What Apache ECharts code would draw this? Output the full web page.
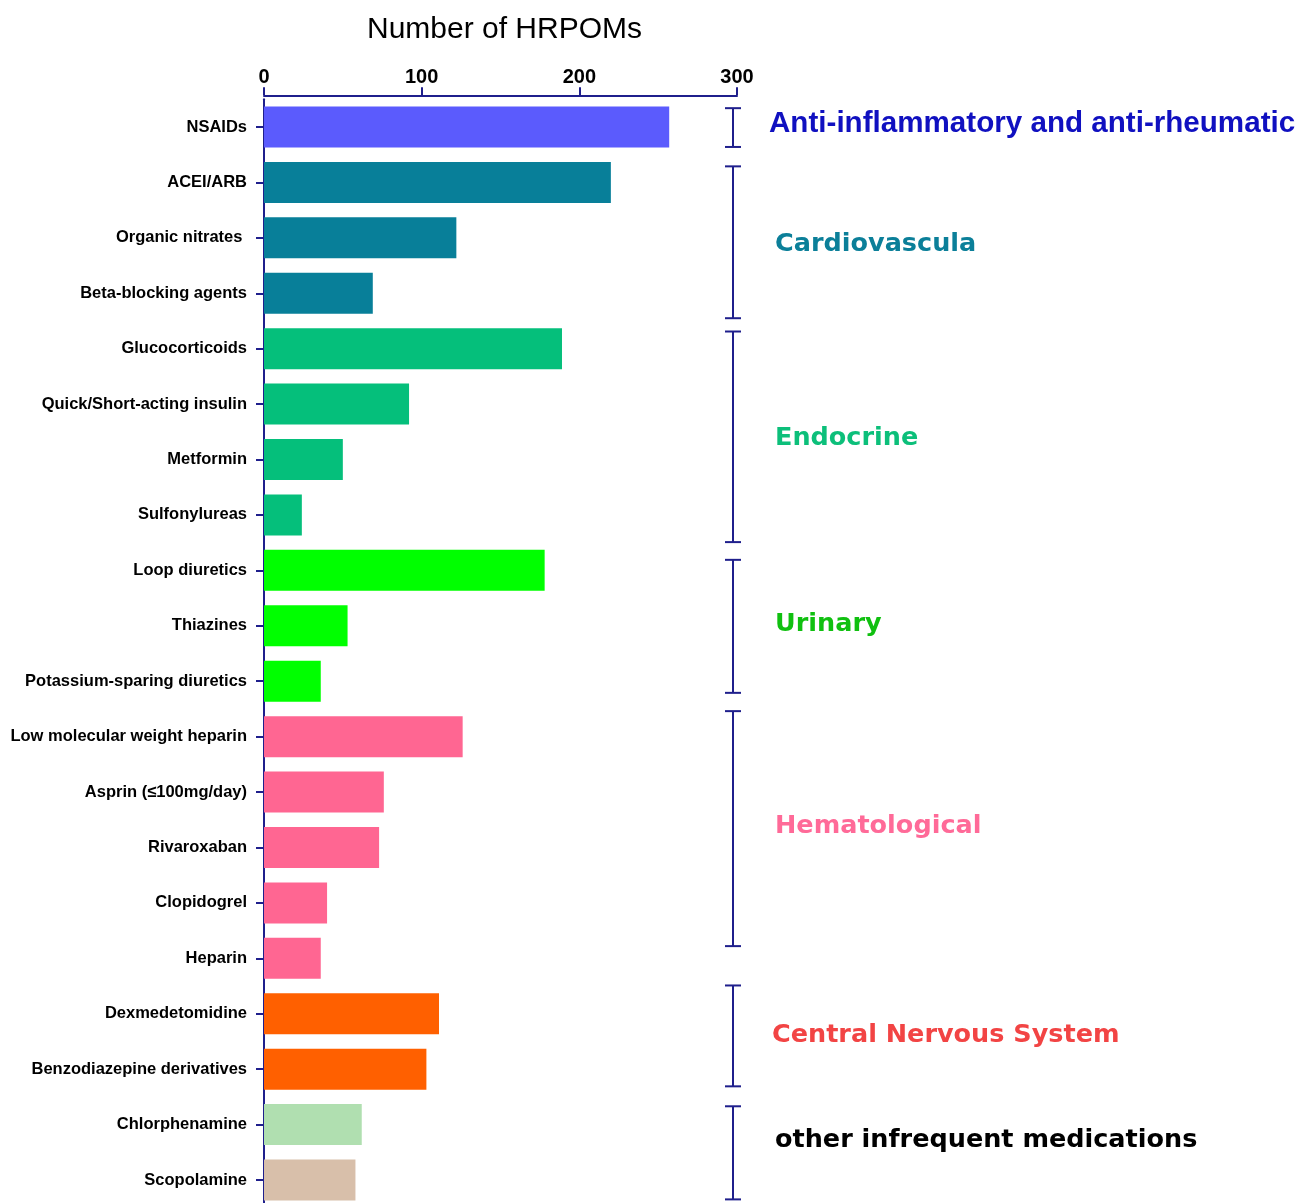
<!DOCTYPE html>
<html><head><meta charset="utf-8">
<script src="https://cdn.jsdelivr.net/npm/echarts@6/dist/echarts.min.js"></script>
<style>html,body{margin:0;padding:0;background:#fff}#c{width:1297px;height:1203px}</style>
</head><body><div id="c"></div>
<script>
const categories = ['NSAIDs','ACEI/ARB','Organic nitrates ','Beta-blocking agents','Glucocorticoids','Quick/Short-acting insulin','Metformin','Sulfonylureas','Loop diuretics','Thiazines','Potassium-sparing diuretics','Low molecular weight heparin','Asprin (\u2264100mg/day)','Rivaroxaban','Clopidogrel','Heparin','Dexmedetomidine','Benzodiazepine derivatives','Chlorphenamine','Scopolamine'];
const values = [257, 220, 122, 69, 189, 92, 50, 24, 178, 53, 36, 126, 76, 73, 40, 36, 111, 103, 62, 58];
const barColors = ['#5b5bfd','#087f99','#087f99','#087f99','#05bf7b','#05bf7b','#05bf7b','#05bf7b','#00ff00','#00ff00','#00ff00','#ff6692','#ff6692','#ff6692','#ff6692','#ff6692','#ff6000','#ff6000','#b0dfb0','#d8bfaa'];
const xTicks = [0, 100, 200, 300];
const groupNames = ['Anti-inflammatory and anti-rheumatic','Cardiovascula','Endocrine','Urinary','Hematological','Central Nervous System','other infrequent medications'];
const groupStart = [-0.34, 0.71, 3.69, 7.81, 10.54, 15.49, 17.67];
const groupEnd = [0.36, 3.45, 7.49, 10.21, 14.78, 17.31, 19.35];
const groupLabelPos = [-0.10, 2.08, 5.59, 8.93, 12.59, 16.36, 18.25];
const groupColors = ['#1010c0','#0b7f99','#0cbf7a','#10c010','#ff6a98','#f24444','#000000'];

const navy = '#1f1f8c';
const chart = echarts.init(document.getElementById('c'), null, {renderer: 'canvas'});
chart.setOption({
  animation: false,
  grid: {left: 264, width: 473, top: 99.3, height: 1108.4, containLabel: false, outerBoundsMode: 'none'},
  xAxis: {
    type: 'value', position: 'top', min: xTicks[0], max: xTicks[xTicks.length - 1], interval: 100,
    offset: 4,
    name: 'Number of HRPOMs', nameLocation: 'middle', nameGap: 51,
    nameTextStyle: {fontFamily: 'Liberation Sans, Arial, sans-serif', fontSize: 30, color: '#000', padding: [0, 0, 0, 8]},
    axisLine: {show: true, lineStyle: {color: navy, width: 2}},
    axisTick: {show: true, length: 8, lineStyle: {color: navy, width: 2}},
    splitLine: {show: false},
    axisLabel: {fontFamily: 'Liberation Sans, Arial, sans-serif', fontWeight: 'bold', fontSize: 20, color: '#000', margin: 8}
  },
  yAxis: {
    type: 'category', inverse: true, data: categories,
    axisLine: {show: true, lineStyle: {color: navy, width: 2}},
    axisTick: {show: true, alignWithLabel: true, length: 8, lineStyle: {color: navy, width: 2}},
    axisLabel: {fontFamily: 'Liberation Sans, Arial, sans-serif', fontWeight: 'bold', fontSize: 16.5, color: '#000', margin: 17, padding: [4, 0, 0, 0]}
  },
  series: [
    {
      type: 'bar', barWidth: 41,
      data: values.map((v, i) => ({value: v, itemStyle: {color: barColors[i]}})),
      z: 2
    },
    {
      type: 'custom', coordinateSystem: 'cartesian2d', clip: false, z: 3,
      data: groupNames.map((n, i) => [xTicks[xTicks.length - 1], groupStart[i], groupEnd[i], groupLabelPos[i]]),
      renderItem: function (params, api) {
        const gi = params.dataIndex;
        const c0 = api.coord([0, 0]);
        const band = api.size([0, 1])[1];
        const x = api.coord([api.value(0), 0])[0] - 4;
        const yS = c0[1] + api.value(1) * band;
        const yE = c0[1] + api.value(2) * band;
        const yL = c0[1] + api.value(3) * band + 2;
        const ls = {stroke: navy, lineWidth: 2};
        const isAnti = gi === 0;
        return {
          type: 'group',
          children: [
            {type: 'line', shape: {x1: x, y1: yS, x2: x, y2: yE}, style: ls},
            {type: 'line', shape: {x1: x - 8, y1: yS, x2: x + 8, y2: yS}, style: ls},
            {type: 'line', shape: {x1: x - 8, y1: yE, x2: x + 8, y2: yE}, style: ls},
            {type: 'text', style: {
              text: groupNames[gi], x: x + (isAnti ? 36 : (gi === 5 ? 39 : 42)), y: yL,
              fill: groupColors[gi],
              fontFamily: isAnti ? 'Liberation Sans, Arial, sans-serif' : 'DejaVu Sans, sans-serif',
              fontWeight: 'bold', fontSize: isAnti ? 29.6 : 25.5,
              align: 'left', verticalAlign: 'middle'
            }}
          ]
        };
      }
    }
  ]
});
</script></body></html>
